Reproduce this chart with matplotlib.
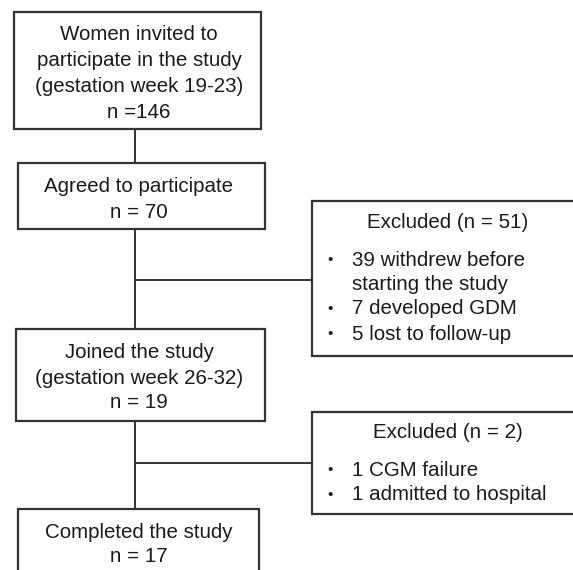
import matplotlib.pyplot as plt
from matplotlib.patches import Rectangle

# flow chart content
main_labels = [
    "Women invited to\nparticipate in the study\n(gestation week 19-23)\nn =146",
    "Agreed to participate\nn = 70",
    "Joined the study\n(gestation week 26-32)\nn = 19",
    "Completed the study\nn = 17",
]
excluded_titles = ["Excluded (n = 51)", "Excluded (n = 2)"]
excluded_items = [
    ["39 withdrew before\nstarting the study", "7 developed GDM", "5 lost to follow-up"],
    ["1 CGM failure", "1 admitted to hospital"],
]

# layout in pixels (x0, y0, x1, y1)
main_boxes = [(14, 12, 261, 129), (18, 163, 265, 229), (16, 329, 265, 421), (18, 509, 259, 600)]
side_boxes = [(312, 201, 575, 356), (312, 412, 575, 514)]
branch_y = [280, 463]
spine_x = 135
line_col = '#333333'
text_col = '#1a1a1a'
fs = 14.8

fig = plt.figure(figsize=(5.73, 5.70), dpi=100)
ax = fig.add_axes([0, 0, 1, 1])
ax.set_xlim(0, 573)
ax.set_ylim(570, 0)
ax.axis('off')
plt.rcParams['font.family'] = ['Liberation Sans', 'DejaVu Sans']

# spine
ax.plot([spine_x, spine_x], [129, 509], color=line_col, lw=1.4, zorder=1)
for y in branch_y:
    ax.plot([spine_x, 312], [y, y], color=line_col, lw=1.4, zorder=1)

text_y = [[34, 61, 87, 112], [186, 212], [352, 378, 403], [532, 557]]
for (x0, y0, x1, y1), label, ys in zip(main_boxes, main_labels, text_y):
    ax.add_patch(Rectangle((x0, y0), x1 - x0, y1 - y0, fill=True, fc='white',
                           ec=line_col, lw=1.6, zorder=2))
    for line, y in zip(label.split("\n"), ys):
        ax.text(139, y, line, ha='center', va='center', fontsize=fs, color=text_col, zorder=3)

bullet_y = [[260, 284, 309, 334], [470, 495]]
title_y = [223, 433]
for (x0, y0, x1, y1), title, items, ys, ty in zip(side_boxes, excluded_titles, excluded_items, bullet_y, title_y):
    ax.add_patch(Rectangle((x0, y0), x1 - x0, y1 - y0, fill=True, fc='white',
                           ec=line_col, lw=1.6, zorder=2))
    ax.text(448, ty, title, ha='center', va='center', fontsize=fs, color=text_col, zorder=3)
    k = 0
    for item in items:
        for j, line in enumerate(item.split("\n")):
            if j == 0:
                ax.text(330, ys[k], "•", ha='center', va='center', fontsize=fs * 0.75, color=text_col, zorder=3)
            ax.text(352, ys[k], line, ha='left', va='center', fontsize=fs, color=text_col, zorder=3)
            k += 1

fig.savefig('out.png', dpi=100)
